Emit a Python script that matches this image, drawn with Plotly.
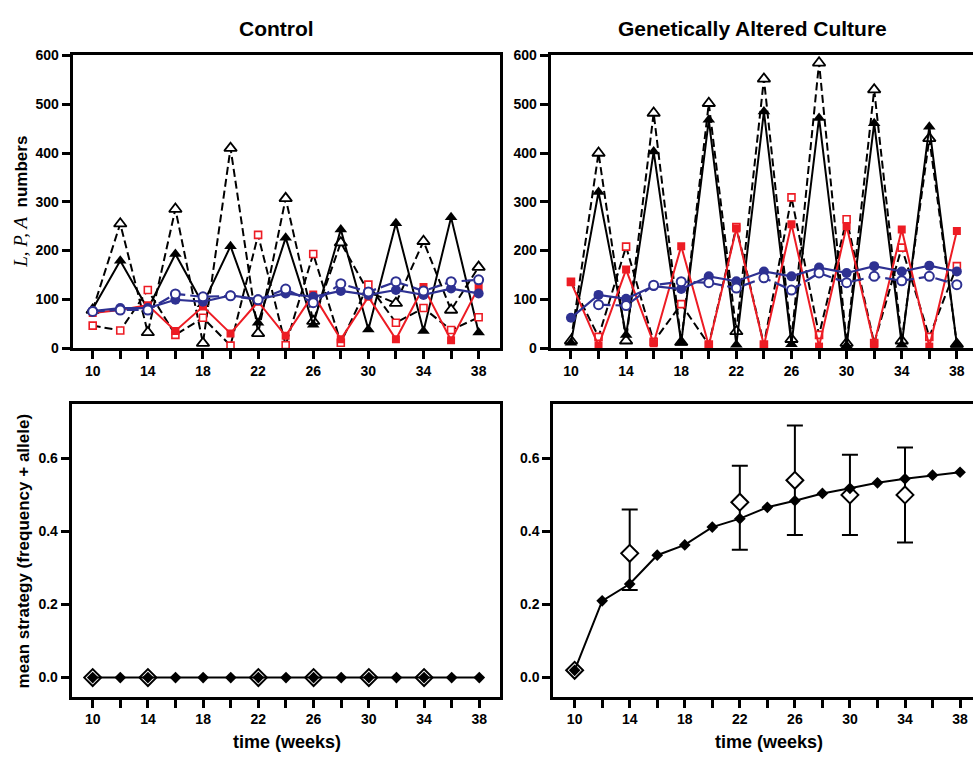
import plotly.graph_objects as go

# ---- data ----
weeks = [10, 12, 14, 16, 18, 20, 22, 24, 26, 28, 30, 32, 34, 36, 38]

# Control culture, top panel
ctl_tri_open = [78, 255, 32, 285, 10, 410, 30, 307, 55, 216, 115, 92, 219, 78, 166]
ctl_tri_fill = [80, 179, 80, 193, 90, 209, 52, 226, 48, 243, 38, 256, 35, 268, 32]
ctl_sq_open = [46, 36, 119, 27, 62, 5, 232, 6, 193, 11, 130, 52, 82, 37, 63]
ctl_sq_fill = [72, 78, 88, 35, 85, 30, 95, 25, 110, 18, 105, 18, 125, 16, 125]
ctl_circ_fill = [76, 82, 82, 99, 95, 108, 100, 112, 105, 117, 109, 119, 109, 122, 112]
ctl_circ_open = [75, 78, 78, 111, 105, 107, 99, 121, 93, 132, 115, 136, 117, 136, 140]

# Genetically altered culture, top panel
gac_tri_open = [15, 400, 15, 482, 12, 502, 34, 552, 18, 585, 10, 530, 15, 430, 8]
gac_tri_fill = [11, 320, 27, 403, 11, 468, 7, 485, 8, 472, 5, 461, 7, 454, 7]
gac_sq_open = [136, 23, 208, 13, 90, 7, 248, 7, 309, 27, 264, 10, 206, 23, 168]
gac_sq_fill = [135, 5, 161, 10, 209, 5, 245, 5, 254, 3, 250, 8, 243, 3, 240]
gac_circ_fill = [62, 109, 101, 127, 121, 147, 137, 157, 147, 165, 154, 168, 157, 169, 157]
gac_circ_open = [None, 89, 87, 129, 136, 134, 123, 144, 119, 154, 134, 147, 138, 147, 130]

# mean strategy, bottom panels
obs_weeks = [10, 14, 22, 26, 30, 34]
ctl_mean = [0.0, 0.0, 0.0, 0.0, 0.0, 0.0, 0.0, 0.0, 0.0, 0.0, 0.0, 0.0, 0.0, 0.0, 0.0]
ctl_obs = [0.0, 0.0, 0.0, 0.0, 0.0, 0.0]
gac_mean = [0.02, 0.21, 0.256, 0.335, 0.363, 0.412, 0.435, 0.466, 0.484, 0.504,
            0.518, 0.533, 0.544, 0.554, 0.562]
gac_obs = [0.02, 0.34, 0.48, 0.54, 0.50, 0.50]
gac_err_up = [0, 0.12, 0.10, 0.15, 0.11, 0.13]
gac_err_down = [0, 0.10, 0.13, 0.15, 0.11, 0.13]

RED = "#ED1C24"
BLUE = "#2E3192"
W, H = 973, 765


def px(x):
    return x / W


def py(y):
    return 1 - y / H


fig = go.Figure()


def top_panel(xa, ya, tri_o, tri_f, sq_o, sq_f, ci_f, ci_o):
    fig.add_trace(go.Scatter(
        x=weeks, y=tri_o, xaxis=xa, yaxis=ya, mode="lines+markers",
        line=dict(color="black", width=2, dash="8px,4px"),
        marker=dict(symbol="triangle-up", size=11, color="white",
                    line=dict(color="black", width=1.8))))
    fig.add_trace(go.Scatter(
        x=weeks, y=tri_f, xaxis=xa, yaxis=ya, mode="lines+markers",
        line=dict(color="black", width=2),
        marker=dict(symbol="triangle-up", size=11, color="black")))
    fig.add_trace(go.Scatter(
        x=weeks, y=sq_o, xaxis=xa, yaxis=ya, mode="lines+markers",
        line=dict(color="black", width=2, dash="8px,4px"),
        marker=dict(symbol="square", size=7, color="white",
                    line=dict(color=RED, width=1.6))))
    fig.add_trace(go.Scatter(
        x=weeks, y=sq_f, xaxis=xa, yaxis=ya, mode="lines+markers",
        line=dict(color=RED, width=2),
        marker=dict(symbol="square", size=8, color=RED)))
    fig.add_trace(go.Scatter(
        x=weeks, y=ci_f, xaxis=xa, yaxis=ya, mode="lines+markers",
        line=dict(color=BLUE, width=2.2),
        marker=dict(symbol="circle", size=10, color=BLUE)))
    fig.add_trace(go.Scatter(
        x=weeks, y=ci_o, xaxis=xa, yaxis=ya, mode="lines+markers",
        line=dict(color=BLUE, width=2.2, dash="12px,5px"),
        marker=dict(symbol="circle", size=9, color="white",
                    line=dict(color=BLUE, width=2))))


top_panel("x", "y", ctl_tri_open, ctl_tri_fill, ctl_sq_open, ctl_sq_fill,
          ctl_circ_fill, ctl_circ_open)
top_panel("x2", "y2", gac_tri_open, gac_tri_fill, gac_sq_open, gac_sq_fill,
          gac_circ_fill, gac_circ_open)

# bottom left
fig.add_trace(go.Scatter(
    x=obs_weeks, y=ctl_obs, xaxis="x3", yaxis="y3", mode="markers",
    marker=dict(symbol="diamond", size=13, color="white",
                line=dict(color="black", width=2))))
fig.add_trace(go.Scatter(
    x=weeks, y=ctl_mean, xaxis="x3", yaxis="y3", mode="lines+markers",
    line=dict(color="black", width=2),
    marker=dict(symbol="diamond", size=9, color="black")))

# bottom right
fig.add_trace(go.Scatter(
    x=obs_weeks, y=gac_obs, xaxis="x4", yaxis="y4", mode="markers",
    error_y=dict(type="data", array=gac_err_up, arrayminus=gac_err_down,
                 color="black", thickness=2, width=8),
    marker=dict(symbol="diamond", size=13, color="white",
                line=dict(color="black", width=2))))
fig.add_trace(go.Scatter(
    x=weeks, y=gac_mean, xaxis="x4", yaxis="y4", mode="lines+markers",
    line=dict(color="black", width=2),
    marker=dict(symbol="diamond", size=9, color="black")))

tickfont = dict(family="Liberation Sans, Arial", size=14, color="black", weight="bold")


def xax(dom, rng, anchor):
    return dict(domain=dom, range=rng, anchor=anchor, showgrid=False, zeroline=False,
                showline=True, linewidth=3, linecolor="black", mirror=True,
                ticks="outside", ticklen=8, tickwidth=2.5, tickcolor="black",
                tick0=10, dtick=4, tickfont=tickfont,
                minor=dict(tick0=10, dtick=2, ticks="outside", ticklen=8,
                           tickwidth=2.5, tickcolor="black"))


def yax(dom, rng, anchor, dtick, fmt, mirror):
    return dict(domain=dom, range=rng, anchor=anchor, showgrid=False, zeroline=False,
                showline=True, linewidth=3, linecolor="black", mirror=mirror,
                ticks="outside", ticklen=8, tickwidth=2.5, tickcolor="black",
                tick0=0, dtick=dtick, tickformat=fmt, tickfont=tickfont)


def yright(over, anchor, rng, dtick):
    return dict(overlaying=over, anchor=anchor, side="right", range=rng,
                showgrid=False, zeroline=False, showline=False,
                ticks="inside", ticklen=8, tickwidth=2.5, tickcolor="black",
                tick0=0, dtick=dtick, showticklabels=False)


top_dom = [py(347.3), py(48.5)]
bot_dom = [py(703.3), py(404)]
top_rng = [0, 600]
bot_rng = [-0.052, 0.75]

fig.update_layout(
    width=W, height=H,
    margin=dict(l=0, r=0, t=0, b=0),
    paper_bgcolor="white", plot_bgcolor="white",
    showlegend=False,
    xaxis=xax([px(72.7), px(500)], [8.55, 39.55], "y"),
    yaxis=yax(top_dom, top_rng, "x", 100, "d", True),
    xaxis2=xax([px(550.7), 1.0], [8.53, 39.17], "y2"),
    yaxis2=yax(top_dom, top_rng, "x2", 100, "d", False),
    xaxis3=xax([px(71.7), px(500)], [8.48, 39.5], "y3"),
    yaxis3=yax(bot_dom, bot_rng, "x3", 0.2, ".1f", True),
    xaxis4=xax([px(553.3), 1.0], [8.45, 38.94], "y4"),
    yaxis4=yax(bot_dom, bot_rng, "x4", 0.2, ".1f", False),
    yaxis5=yright("y", "x", top_rng, 100),
    yaxis6=yright("y2", "x2", top_rng, 100),
    yaxis7=yright("y3", "x3", bot_rng, 0.2),
    yaxis8=yright("y4", "x4", bot_rng, 0.2),
)

title_font = dict(family="Liberation Sans, Arial", size=21, color="black", weight="bold")
lab_font = dict(family="Liberation Sans, Arial", size=18, color="black", weight="bold")


def note(x, y, text, font, angle=0):
    fig.add_annotation(x=px(x), y=py(y), xref="paper", yref="paper", text=text,
                       showarrow=False, font=font, textangle=angle,
                       xanchor="center", yanchor="middle")


note(276, 21, "Control", title_font)
note(752.5, 21, "Genetically Altered Culture", title_font)
note(287, 750, "time (weeks)", lab_font)
note(769, 750, "time (weeks)", lab_font)
note(21, 198,
     "<span style='font-family:Liberation Serif;font-style:italic;"
     "font-weight:normal;font-size:19px'>L, P, A</span>  numbers",
     dict(family="Liberation Sans, Arial", size=17, color="black", weight="bold"), -90)
note(23, 555, "mean strategy (frequency + allele)",
     dict(family="Liberation Sans, Arial", size=17, color="black", weight="bold"), -90)

# pin the graph to the top-left corner of the page so it fills the window exactly
pin = ("var d=document.getElementsByClassName('plotly-graph-div')[0];"
       "d.style.position='fixed';d.style.left='0px';d.style.top='0px';"
       "document.body.style.margin='0px';document.body.style.overflow='hidden';")
fig.write_html("out.html", post_script=pin, config={"displayModeBar": False})
